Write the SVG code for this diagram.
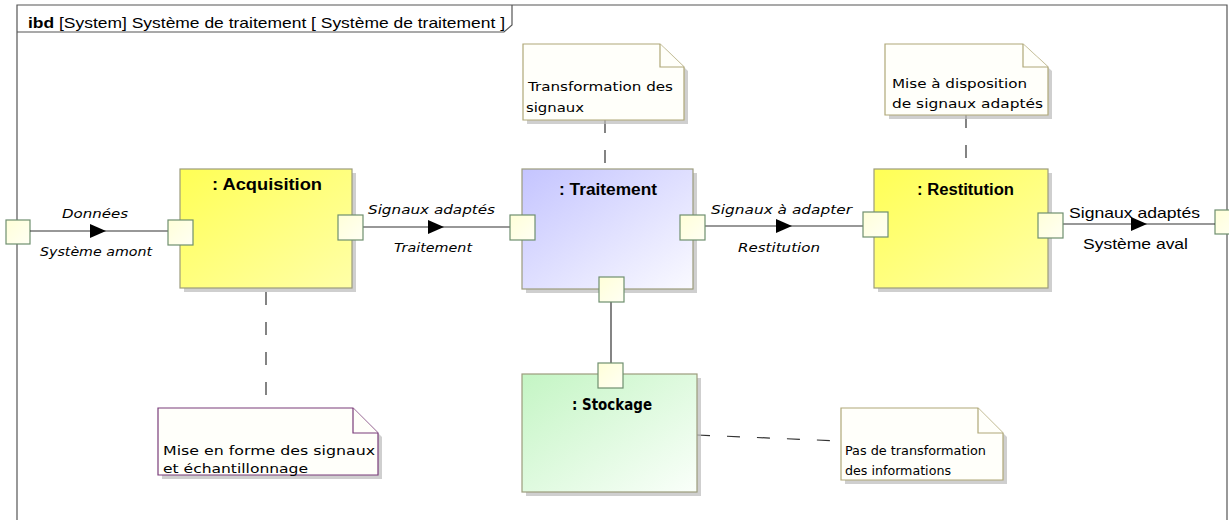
<svg xmlns="http://www.w3.org/2000/svg" width="1229" height="520" viewBox="0 0 1229 520">
<style>
.frame{fill:none;stroke:#555;stroke-width:1.2}
.box{stroke:#9c9c7c;stroke-width:1.2}
.shadow{fill:#bbbbbb;opacity:0.7}
.port{fill:url(#gPort);stroke:#6f8f6f;stroke-width:1.2}
.conn{fill:none;stroke:#333;stroke-width:1.2}
.dash{fill:none;stroke:#333;stroke-width:1.2;stroke-dasharray:13 17}
.note{fill:#fffffa;stroke:#b0a878;stroke-width:1.2}
.notep{fill:#fffffa;stroke:#7a3d7a;stroke-width:1.2}
.title{font-family:"Liberation Sans",Arial,sans-serif;font-weight:bold;font-size:16px;fill:#000}
.titlec{font-family:"DejaVu Sans Condensed","DejaVu Sans",sans-serif;font-weight:bold;font-size:15px;fill:#000}
.lab{font-family:"DejaVu Sans","Liberation Sans",sans-serif;font-style:italic;font-size:13px;fill:#000}
.labn{font-family:"Liberation Sans",Arial,sans-serif;font-size:15px;fill:#000}
.nt{font-family:"DejaVu Sans","Liberation Sans",sans-serif;font-size:13px;fill:#000}
.nts{font-family:"DejaVu Sans Condensed","DejaVu Sans",sans-serif;font-size:12px;fill:#000}
.hdr{font-family:"Liberation Sans",Arial,sans-serif;font-size:15px;fill:#000}
</style>
<defs>
<linearGradient id="gYellow" x1="0" y1="0" x2="1" y2="1"><stop offset="0" stop-color="#ffff55"/><stop offset="1" stop-color="#ffffa8"/></linearGradient>
<linearGradient id="gBlue" x1="0" y1="0" x2="1" y2="1"><stop offset="0" stop-color="#c4c4ff"/><stop offset="1" stop-color="#fafaff"/></linearGradient>
<linearGradient id="gGreen" x1="0" y1="0" x2="1" y2="1"><stop offset="0" stop-color="#c4f5c4"/><stop offset="1" stop-color="#fafffa"/></linearGradient>
<linearGradient id="gPort" x1="0" y1="0" x2="1" y2="1"><stop offset="0" stop-color="#ffffd8"/><stop offset="1" stop-color="#fffff4"/></linearGradient>
</defs>
<rect width="1229" height="520" fill="#fff"/>

<g id="frame">
<path class="frame" d="M17,520 V5 H1227 V520"/>
<path class="frame" d="M17,32 H504 L512,25 V5"/>
<text class="hdr" x="28" y="28" textLength="477" lengthAdjust="spacingAndGlyphs"><tspan font-weight="bold">ibd</tspan> [System] Système de traitement [ Système de traitement ]</text>
<rect class="port" x="6" y="220" width="24" height="24"/>
<rect class="port" x="1215" y="210" width="24" height="24"/>
</g>

<g id="connectors">
<path class="conn" d="M30,231 H168"/>
<path d="M90,224 L106,231 L90,238 Z" fill="#000"/>
<path class="conn" d="M363,227 H510"/>
<path d="M428,220 L444,227 L428,234 Z" fill="#000"/>
<path class="conn" d="M705,226 H863"/>
<path d="M776,219 L792,226 L776,233 Z" fill="#000"/>
<path class="conn" d="M1063,224 H1215"/>
<path d="M1131,217 L1147,224 L1131,231 Z" fill="#000"/>
<path class="conn" d="M611,302 V363"/>
<path class="dash" d="M605,120 V169"/>
<path class="dash" d="M966,115 V169"/>
<path class="dash" d="M266,292 V408"/>
<path class="dash" d="M697,435 L841,441"/>
<text class="lab" x="62" y="218" textLength="66" lengthAdjust="spacingAndGlyphs">Données</text>
<text class="lab" x="40" y="256" textLength="112" lengthAdjust="spacingAndGlyphs">Système amont</text>
<text class="lab" x="368" y="214" textLength="127" lengthAdjust="spacingAndGlyphs">Signaux adaptés</text>
<text class="lab" x="394" y="252" textLength="78" lengthAdjust="spacingAndGlyphs">Traitement</text>
<text class="lab" x="711" y="214" textLength="141" lengthAdjust="spacingAndGlyphs">Signaux à adapter</text>
<text class="lab" x="738" y="252" textLength="82" lengthAdjust="spacingAndGlyphs">Restitution</text>
<text class="labn" x="1069" y="218" textLength="131" lengthAdjust="spacingAndGlyphs">Signaux adaptés</text>
<text class="labn" x="1083" y="249" textLength="105" lengthAdjust="spacingAndGlyphs">Système aval</text>
</g>

<g id="acquisition">
<rect class="shadow" x="184" y="173" width="172" height="119"/>
<rect class="box" x="180" y="169" width="172" height="119" fill="url(#gYellow)"/>
<text class="title" x="212" y="190" textLength="110" lengthAdjust="spacingAndGlyphs">: Acquisition</text>
<rect class="port" x="168" y="220" width="25" height="25"/>
<rect class="port" x="338" y="215" width="25" height="25"/>
</g>

<g id="traitement">
<rect class="shadow" x="526" y="173" width="171" height="120"/>
<rect class="box" x="522" y="169" width="171" height="120" fill="url(#gBlue)"/>
<text class="title" x="559" y="195" textLength="98" lengthAdjust="spacingAndGlyphs">: Traitement</text>
<rect class="port" x="510" y="215" width="25" height="25"/>
<rect class="port" x="680" y="215" width="25" height="25"/>
<rect class="port" x="599" y="277" width="25" height="25"/>
</g>

<g id="restitution">
<rect class="shadow" x="878" y="173" width="174" height="119"/>
<rect class="box" x="874" y="169" width="174" height="119" fill="url(#gYellow)"/>
<text class="title" x="917" y="195" textLength="97" lengthAdjust="spacingAndGlyphs">: Restitution</text>
<rect class="port" x="863" y="212" width="25" height="25"/>
<rect class="port" x="1038" y="213" width="25" height="25"/>
</g>

<g id="stockage">
<rect class="shadow" x="526" y="378" width="175" height="118"/>
<rect class="box" x="522" y="374" width="175" height="118" fill="url(#gGreen)"/>
<text class="titlec" x="572" y="410" textLength="80" lengthAdjust="spacingAndGlyphs">: Stockage</text>
<rect class="port" x="598" y="363" width="25" height="25"/>
</g>

<g id="note-transformation">
<path class="shadow" d="M527,48 H664 L688,71 V124 H527 Z"/>
<path class="note" d="M523,44 H660 L684,67 V120 H523 Z"/>
<path class="note" d="M660,44 V67 H684"/>
<text class="nt" x="528" y="91" textLength="145" lengthAdjust="spacingAndGlyphs">Transformation des</text>
<text class="nt" x="526" y="112" textLength="58" lengthAdjust="spacingAndGlyphs">signaux</text>
</g>

<g id="note-disposition">
<path class="shadow" d="M889,48 H1027 L1052,71 V119 H889 Z"/>
<path class="note" d="M885,44 H1023 L1048,67 V115 H885 Z"/>
<path class="note" d="M1023,44 V67 H1048"/>
<text class="nt" x="892" y="88" textLength="135" lengthAdjust="spacingAndGlyphs">Mise à disposition</text>
<text class="nt" x="892" y="108" textLength="151" lengthAdjust="spacingAndGlyphs">de signaux adaptés</text>
</g>

<g id="note-miseenforme">
<path class="shadow" d="M162,412 H357 L382,437 V479 H162 Z"/>
<path class="notep" d="M158,408 H353 L378,433 V475 H158 Z"/>
<path class="notep" d="M353,408 V433 H378"/>
<text class="nt" x="163" y="455" textLength="212" lengthAdjust="spacingAndGlyphs">Mise en forme des signaux</text>
<text class="nt" x="163" y="473" textLength="145" lengthAdjust="spacingAndGlyphs">et échantillonnage</text>
</g>

<g id="note-pasdetransformation">
<path class="shadow" d="M845,412 H982 L1007,437 V484 H845 Z"/>
<path class="note" d="M841,408 H978 L1003,433 V480 H841 Z"/>
<path class="note" d="M978,408 V433 H1003"/>
<text class="nts" x="845" y="455" textLength="141" lengthAdjust="spacingAndGlyphs">Pas de transformation</text>
<text class="nts" x="845" y="475" textLength="106" lengthAdjust="spacingAndGlyphs">des informations</text>
</g>
</svg>
